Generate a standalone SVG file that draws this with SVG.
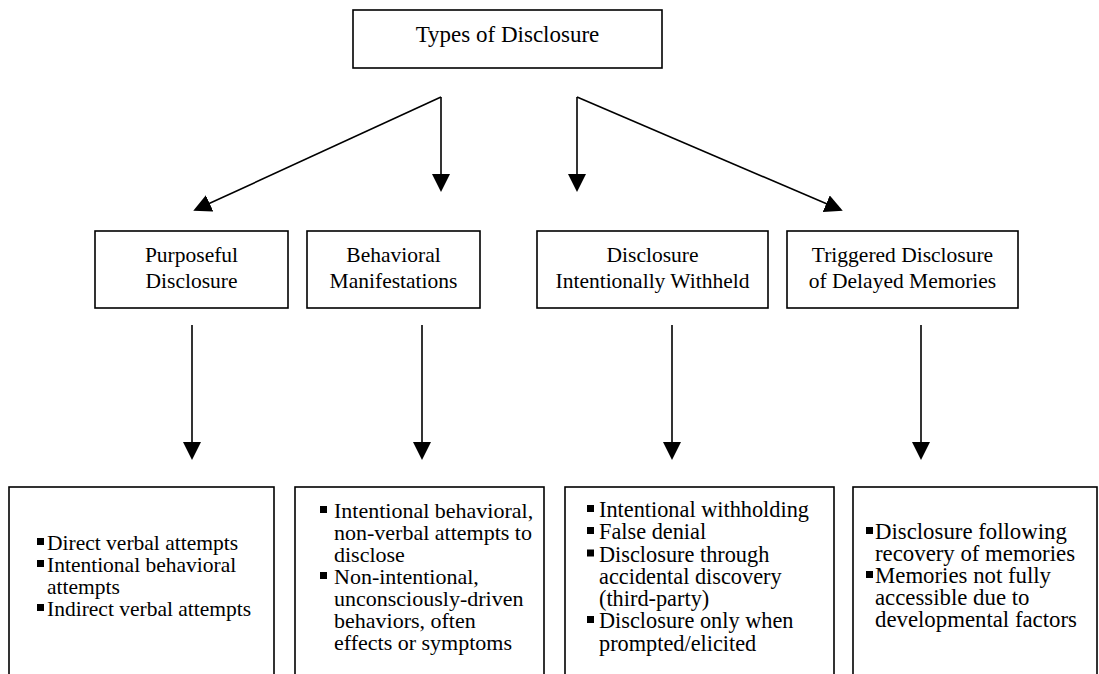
<svg xmlns="http://www.w3.org/2000/svg" width="1099" height="674" viewBox="0 0 1099 674">
<style>
.box{fill:#fff;stroke:#000;stroke-width:1.6}
.t{font-family:"Liberation Serif","Times New Roman",serif;fill:#000}
.title{font-size:23px;text-anchor:middle}
.mid{font-size:21.5px;text-anchor:middle}
.l1{font-size:21.5px}
.l2{font-size:22px}
.l3{font-size:22.3px}
.l4{font-size:22.8px}
.con{stroke:#000;stroke-width:1.6;fill:none;marker-end:url(#ah)}
.b{fill:#000}
</style>
<defs>
<marker id="ah" markerUnits="userSpaceOnUse" markerWidth="18" markerHeight="18" viewBox="0 0 18 18" refX="15" refY="9" orient="auto">
<path d="M0,0 L18,9 L0,18 z" fill="#000"/>
</marker>
</defs>
<rect width="1099" height="674" fill="#fff"/>
<g id="connectors">
<line class="con" x1="441" y1="97" x2="441" y2="189"/>
<line class="con" x1="441" y1="97" x2="196" y2="209.6"/>
<line class="con" x1="577" y1="97" x2="577" y2="189"/>
<line class="con" x1="577" y1="97" x2="840" y2="209.6"/>
<line class="con" x1="192" y1="325" x2="192" y2="457"/>
<line class="con" x1="422" y1="325" x2="422" y2="457"/>
<line class="con" x1="672" y1="325" x2="672" y2="457"/>
<line class="con" x1="921" y1="325" x2="921" y2="457"/>
</g>
<g id="types">
<rect class="box" x="353" y="10" width="309" height="58"/>
<text class="t title" x="507.5" y="42">Types of Disclosure</text>
</g>
<g id="purposeful">
<rect class="box" x="95" y="231" width="193" height="77"/>
<text class="t mid" x="191.5" y="262">Purposeful</text>
<text class="t mid" x="191.5" y="288">Disclosure</text>
</g>
<g id="behavioral">
<rect class="box" x="307" y="231" width="173" height="77"/>
<text class="t mid" x="393.5" y="262">Behavioral</text>
<text class="t mid" x="393.5" y="288">Manifestations</text>
</g>
<g id="withheld">
<rect class="box" x="537" y="231" width="231" height="77"/>
<text class="t mid" x="652.5" y="262">Disclosure</text>
<text class="t mid" x="652.5" y="288">Intentionally Withheld</text>
</g>
<g id="triggered">
<rect class="box" x="787" y="231" width="231" height="77"/>
<text class="t mid" x="902.5" y="262">Triggered Disclosure</text>
<text class="t mid" x="902.5" y="288">of Delayed Memories</text>
</g>
<g id="list-purposeful">
<rect class="box" x="9" y="487" width="265" height="200"/>
<rect class="b" x="37" y="538" width="7" height="7"/>
<rect class="b" x="37" y="560" width="7" height="7"/>
<rect class="b" x="37" y="604" width="7" height="7"/>
<text class="t l1" x="47" y="550">Direct verbal attempts</text>
<text class="t l1" x="47" y="572">Intentional behavioral</text>
<text class="t l1" x="47" y="594">attempts</text>
<text class="t l1" x="47" y="616">Indirect verbal attempts</text>
</g>
<g id="list-behavioral">
<rect class="box" x="295" y="487" width="249" height="200"/>
<rect class="b" x="320" y="506" width="7" height="7"/>
<rect class="b" x="320" y="572" width="7" height="7"/>
<text class="t l2" x="334" y="518">Intentional behavioral,</text>
<text class="t l2" x="334" y="540">non-verbal attempts to</text>
<text class="t l2" x="334" y="562">disclose</text>
<text class="t l2" x="334" y="584">Non-intentional,</text>
<text class="t l2" x="334" y="606">unconsciously-driven</text>
<text class="t l2" x="334" y="628">behaviors, often</text>
<text class="t l2" x="334" y="650">effects or symptoms</text>
</g>
<g id="list-withheld">
<rect class="box" x="565" y="487" width="269" height="200"/>
<rect class="b" x="587" y="505" width="7" height="7"/>
<rect class="b" x="587" y="527" width="7" height="7"/>
<rect class="b" x="587" y="549.5" width="7" height="7"/>
<rect class="b" x="587" y="616" width="7" height="7"/>
<text class="t l3" x="599" y="517">Intentional withholding</text>
<text class="t l3" x="599" y="539">False denial</text>
<text class="t l3" x="599" y="561.5">Disclosure through</text>
<text class="t l3" x="599" y="584">accidental discovery</text>
<text class="t l3" x="599" y="606">(third-party)</text>
<text class="t l3" x="599" y="628">Disclosure only when</text>
<text class="t l3" x="599" y="650.5">prompted/elicited</text>
</g>
<g id="list-triggered">
<rect class="box" x="853" y="487" width="244" height="200"/>
<rect class="b" x="866" y="527" width="7" height="7"/>
<rect class="b" x="866" y="571" width="7" height="7"/>
<text class="t l4" x="875" y="539">Disclosure following</text>
<text class="t l4" x="875" y="561">recovery of memories</text>
<text class="t l4" x="875" y="583">Memories not fully</text>
<text class="t l4" x="875" y="605">accessible due to</text>
<text class="t l4" x="875" y="627">developmental factors</text>
</g>
</svg>
